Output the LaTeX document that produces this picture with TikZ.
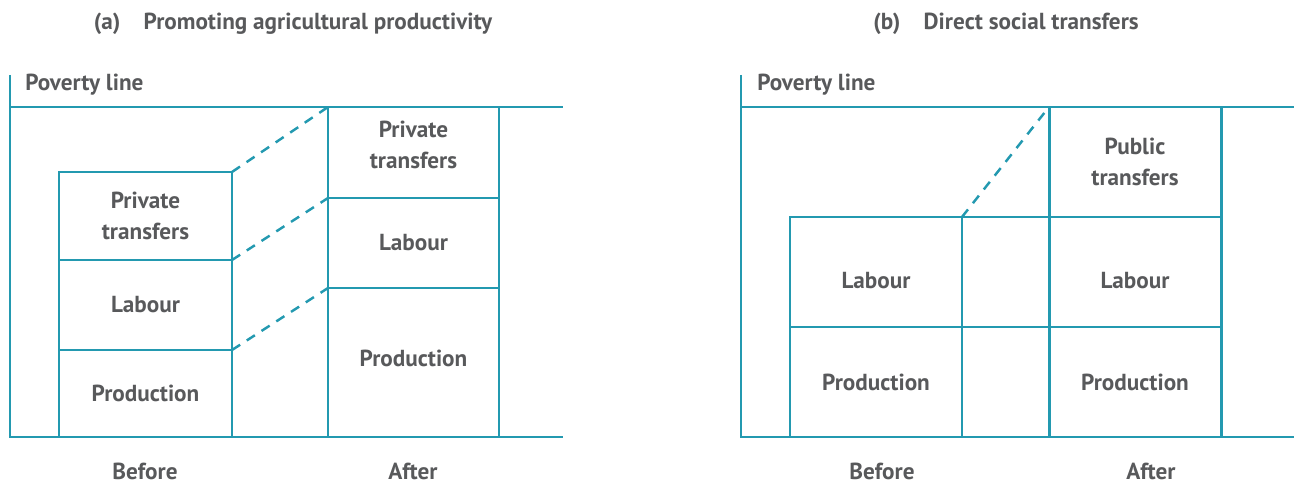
\documentclass[tikz,border=0pt]{standalone}
\usepackage{fontspec}
\setmainfont{PT Sans}
\definecolor{lineteal}{HTML}{2399B0}
\definecolor{textgrey}{HTML}{58595B}
\def\px{0.02cm}

\tikzset{
  part/.style={draw=lineteal, line width=1.7pt, inner sep=0pt, outer sep=0pt,
    align=center, text=textgrey, font=\bfseries\fontsize{13.2}{18}\selectfont},
  axisline/.style={draw=lineteal, line width=1.4pt},
  shiftline/.style={draw=lineteal, line width=1.4pt, dash pattern=on 5.5pt off 4.5pt},
  txt/.style={text=textgrey, inner sep=0pt, font=\bfseries\fontsize{13.2}{18}\selectfont}
}

\begin{document}
\begin{tikzpicture}[x=0.02cm, y=-0.02cm]
        \useasboundingbox (0,0) rectangle (1303,483);

        % (a) promoting agricultural productivity
        \node[txt] (aTitle) at (293,24) {(a)\hspace{1em}Promoting agricultural productivity};
        \node[txt, anchor=west] (aPov) at (25,85) {Poverty line};
        \coordinate (aTop) at (10,75);
        \coordinate (aO) at (10,437);
        \coordinate (aEnd) at (563,437);
        \coordinate (aP) at (10,107);
        \coordinate (aPend) at (563,107);
        \draw[axisline] (aTop) -- (aO) -- (aEnd);
        \draw[axisline] (aP) -- (aPend);

        \node[part, minimum width=173*\px, minimum height=88*\px] (aBpriv) at (145.5,216) {Private\\transfers};
        \node[part, minimum width=173*\px, minimum height=90*\px] (aBlab) at (145.5,305) {Labour};
        \node[part, minimum width=173*\px, minimum height=87*\px] (aBprod) at (145.5,393.5) {Production};

        \node[part, minimum width=171*\px, minimum height=91*\px] (aApriv) at (413.5,152.5) {\raisebox{0.12cm}[\height][\depth]{\begin{tabular}{@{}c@{}}Private\\transfers\end{tabular}}};
        \node[part, minimum width=171*\px, minimum height=90*\px] (aAlab) at (413.5,243) {Labour};
        \node[part, minimum width=171*\px, minimum height=149*\px] (aAprod) at (413.5,362.5) {\raisebox{0.08cm}[\height][\depth]{Production}};

        \draw[shiftline] (aBpriv.north east) -- (aApriv.north west);
        \draw[shiftline] (aBlab.north east) -- (aAlab.north west);
        \draw[shiftline] (aBprod.north east) -- (aAprod.north west);

        \node[txt] (aBefore) at (145,471) {Before};
        \node[txt] (aAfter) at (413,471) {After};

        % (b) direct social transfers
        \node[txt] (bTitle) at (1006,24) {(b)\hspace{1em}Direct social transfers};
        \node[txt, anchor=west] (bPov) at (757,85) {Poverty line};
        \coordinate (bTop) at (741,75);
        \coordinate (bO) at (741,437);
        \coordinate (bEnd) at (1294,437);
        \coordinate (bP) at (741,107);
        \coordinate (bPend) at (1294,107);
        \draw[axisline] (bTop) -- (bO) -- (bEnd);
        \draw[axisline] (bP) -- (bPend);

        \node[part, minimum width=172*\px, minimum height=110*\px] (bBlab) at (876,272) {\raisebox{-0.18cm}[\height][\depth]{Labour}};
        \node[part, minimum width=172*\px, minimum height=110*\px] (bBprod) at (876,382) {Production};

        \node[part, minimum width=87*\px, minimum height=110*\px] (bMlab) at (1005.5,272) {};
        \node[part, minimum width=87*\px, minimum height=110*\px] (bMprod) at (1005.5,382) {};

        \node[part, minimum width=172*\px, minimum height=110*\px] (bApub) at (1135,162) {Public\\transfers};
        \node[part, minimum width=172*\px, minimum height=110*\px] (bAlab) at (1135,272) {\raisebox{-0.18cm}[\height][\depth]{Labour}};
        \node[part, minimum width=172*\px, minimum height=110*\px] (bAprod) at (1135,382) {Production};

        \draw[shiftline] (bMlab.north west) -- (bApub.north west);

        \node[txt] (bBefore) at (882,471) {Before};
        \node[txt] (bAfter) at (1151,471) {After};
    \end{tikzpicture}
\end{document}
